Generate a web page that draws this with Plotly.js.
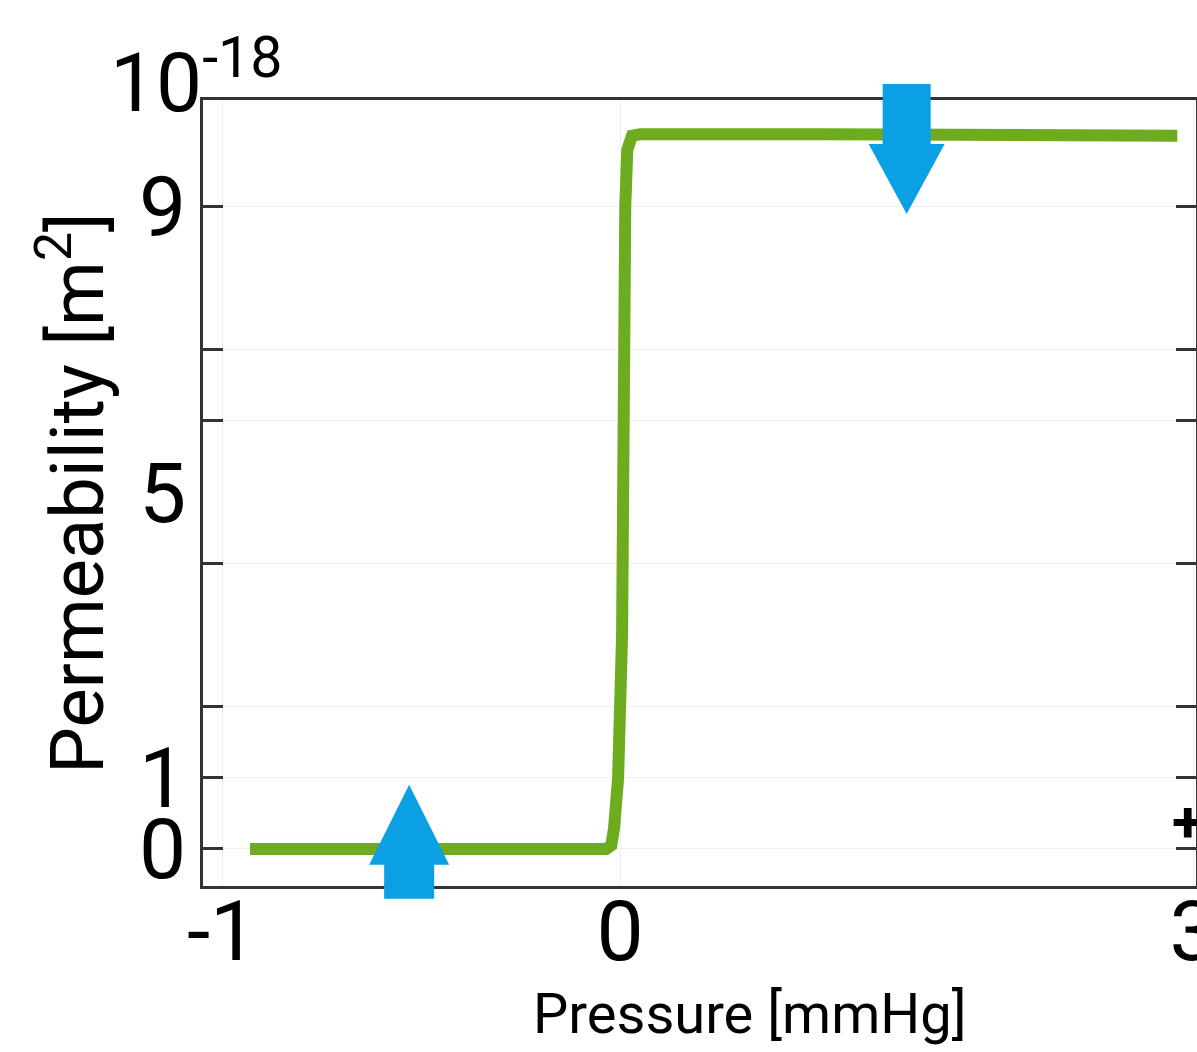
<!DOCTYPE html>
<html>
<head>
<meta charset="utf-8">
<script src="https://cdn.plot.ly/plotly-3.0.1.min.js"></script>
<style>html,body{margin:0;padding:0;background:#fff;}#chart{width:1197px;height:1052px;}</style>
</head>
<body>
<div id="chart"></div>
<script>
// ---- data ----
var pressure = [-0.93, -0.5, -0.1, -0.035, -0.022, -0.015, -0.005, 0.005, 0.013, 0.018, 0.03, 0.05, 0.5, 1.0, 1.40];
var permeability = [0, 0, 0, 0, 0.05, 0.3, 1.0, 3.0, 9.0, 9.8, 10.0, 10.02, 10.02, 10.0, 10.0];
var yTickVals = [0, 1, 5, 9];
var yTickText = ['0', '1', '5', '9'];
var yMarkVals = [0, 1, 2, 4, 6, 7, 9];
var xTickVals = [-1, 0, 1.44];
var xTickText = ['-1', '0', '3'];
var arrowX = [-0.53, 0.72];
var arrowTipY = [0.9, 8.9];
var arrowDir = ['up', 'down'];
var xTitle = 'Pressure [mmHg]';
var yTitle = 'Permeability [m<sup>2</sup>]';
var yExponent = '10<sup>-18</sup>';

var FONT = 'Roboto, Liberation Sans, Arial, sans-serif';
var yRange = [-0.52, 10.5];
var xRange = [-1.048, 1.447];

function toPaperY(v){ return (v - yRange[0]) / (yRange[1] - yRange[0]); }

// arrow geometry (pixels): head half-width, head length, shaft half-width, shaft length
var shapes = arrowX.map(function(x, i){
  var up = arrowDir[i] === 'up';
  var hw = up ? 40 : 38, hl = up ? 80 : 70, sw = up ? 25 : 24, sl = up ? 34 : 60;
  var s = up ? 1 : -1;
  var p = 'M0,0 L' + hw + ',' + (-s*hl) + ' L' + sw + ',' + (-s*hl) + ' L' + sw + ',' + (-s*(hl+sl)) +
          ' L' + (-sw) + ',' + (-s*(hl+sl)) + ' L' + (-sw) + ',' + (-s*hl) + ' L' + (-hw) + ',' + (-s*hl) + ' Z';
  return {
    type: 'path', xref: 'x', yref: 'paper', xsizemode: 'pixel', ysizemode: 'pixel',
    xanchor: x, yanchor: toPaperY(arrowTipY[i]), path: p,
    fillcolor: '#0ba0e3', line: {width: 0}, layer: 'above'
  };
});

var trace = {
  x: pressure, y: permeability, type: 'scatter', mode: 'lines',
  line: {color: '#6dab1f', width: 12}, hoverinfo: 'none', showlegend: false
};
var marks = {
  x: [], y: [], yaxis: 'y2', type: 'scatter', showlegend: false
};

var layout = {
  width: 1197, height: 1052,
  margin: {l: 203, r: 1, t: 100, b: 166, pad: 0},
  paper_bgcolor: '#fff', plot_bgcolor: '#fff',
  font: {family: FONT, color: '#000'},
  showlegend: false,
  xaxis: {
    range: xRange, tickmode: 'array', tickvals: xTickVals, ticktext: xTickText,
    ticks: '', tickfont: {size: 84, family: FONT, color: '#000'}, ticklabelstandoff: -30,
    ticklabeloverflow: 'allow',
    showline: true, linecolor: '#333', linewidth: 3, mirror: true,
    showgrid: true, gridcolor: '#efefef', gridwidth: 1, zeroline: false
  },
  yaxis: {
    range: yRange, tickmode: 'array', tickvals: yTickVals, ticktext: yTickText,
    ticks: '', tickfont: {size: 84, family: FONT, color: '#000'}, ticklabelstandoff: -3,
    showline: true, linecolor: '#333', linewidth: 3, mirror: true,
    showgrid: false, zeroline: false,
    title: {text: yTitle, font: {size: 74, family: FONT, color: '#000'}, standoff: 12}
  },
  yaxis2: {
    overlaying: 'y', range: yRange, tickmode: 'array', tickvals: yMarkVals,
    ticks: 'inside', ticklen: 20, tickwidth: 3, tickcolor: '#333',
    showticklabels: false, mirror: 'ticks', showline: false,
    showgrid: true, gridcolor: '#f1f1f1', gridwidth: 1, zeroline: false
  },
  shapes: shapes,
  annotations: [
    {xref: 'paper', yref: 'paper', x: (108 - 203) / 993, y: (886 - 133) / 786,
     xanchor: 'left', yanchor: 'bottom', showarrow: false,
     text: yExponent, font: {size: 82, family: FONT, color: '#000'}},
    {xref: 'paper', yref: 'paper', x: (750 - 203) / 993, y: (886 - 1014) / 786,
     xanchor: 'center', yanchor: 'middle', showarrow: false,
     text: xTitle, font: {size: 56, family: FONT, color: '#000'}},
    {xref: 'paper', yref: 'paper', x: (1188 - 203) / 993, y: (886 - 822) / 786,
     xanchor: 'center', yanchor: 'middle', showarrow: false,
     text: '<b>+</b>', font: {size: 58, family: FONT, color: '#000'}}
  ]
};

Plotly.newPlot('chart', [trace, marks], layout, {displayModeBar: false, staticPlot: true});
</script>
</body>
</html>
